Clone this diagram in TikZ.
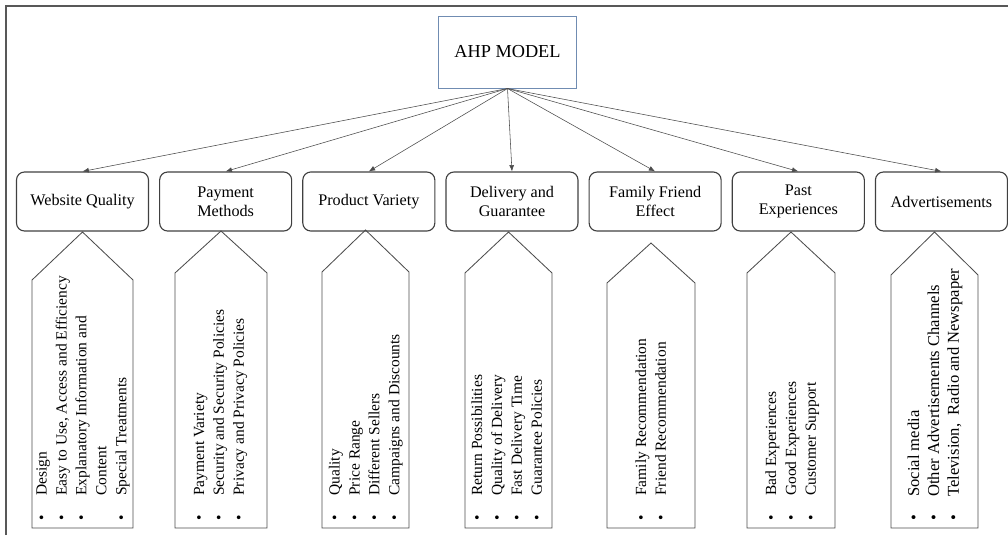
\documentclass[tikz,border=0pt]{standalone}
\usepackage{fontspec}
\setmainfont{Liberation Serif}
\usetikzlibrary{positioning,arrows.meta}

\definecolor{ahpblue}{RGB}{112,140,178}
\definecolor{framegray}{RGB}{88,88,88}

\tikzset{
  ahpbox/.style={draw=ahpblue, line width=0.7pt, minimum width=3.425cm, minimum height=1.8cm,
    font=\fontsize{13}{15}\selectfont},
  catbox/.style={draw=black!75, line width=0.8pt, rounded corners=0.2cm, minimum width=3.3cm,
    minimum height=1.475cm, align=center, font=\fontsize{11.5}{13.5}\selectfont},
  arrowbox/.style={draw=black!70, line width=0.6pt},
  listtext/.style={rotate=90, anchor=west, inner sep=0pt, font=\fontsize{11}{14.2}\selectfont},
  conn/.style={draw=black!70, line width=0.4pt, -{Latex[length=4.5pt,width=3.5pt]}}
}

\begin{document}
\begin{tikzpicture}[x=0.025cm, y=-0.025cm]
  \useasboundingbox (0,0) rectangle (1008,535);
  \draw[framegray, line width=1.4pt] (6,535) -- (6,6) -- (1008,6);

  \node[ahpbox] (ahp) at (507.5,52) {AHP MODEL};

  \node[catbox] (wq) at (82.5,201.5) {Website Quality};
  \node[catbox] (pm) [right = 0.25cm of wq] {Payment\\Methods};
  \node[catbox] (pv) [right = 0.25cm of pm] {Product Variety};
  \node[catbox] (dg) [right = 0.25cm of pv] {Delivery and\\Guarantee};
  \node[catbox] (ff) [right = 0.25cm of dg] {Family Friend\\Effect};
  \node[catbox] (pe) [right = 0.25cm of ff] {Past\\Experiences};
  \node[catbox] (ad) [right = 0.25cm of pe] {Advertisements};

  \foreach \n in {wq,pm,pv,dg,ff,pe,ad}
    \path[conn] (ahp.south) -- (\n.north);

  % upward arrow shapes under each factor
  \foreach \cx/\hw/\ap/\sh in {82.5/50.5/232/280, 221/46/231/273, 365.5/43.5/230/272,
      508.5/43.5/232/273, 651/44/243/283, 791/44/232/273, 934.5/43.5/232/275}
    \draw[arrowbox] (\cx-\hw,528) -- (\cx-\hw,\sh) -- (\cx,\ap) -- (\cx+\hw,\sh)
      -- (\cx+\hw,528) -- cycle;

  \node[listtext] (wql) at (82.5,521) {\begin{tabular}{@{}l@{\hspace{14pt}}l@{}}
    \textbullet & Design\\
    \textbullet & Easy to Use, Access and Efficiency\\
    \textbullet & Explanatory Information and\\
                & Content\\
    \textbullet & Special Treatments
  \end{tabular}};
  \node[listtext] (pml) at (220,521) {\begin{tabular}{@{}l@{\hspace{14pt}}l@{}}
    \textbullet & Payment Variety\\
    \textbullet & Security and Security Policies\\
    \textbullet & Privacy and Privacy Policies
  \end{tabular}};
  \node[listtext] (pvl) at (365.5,521) {\begin{tabular}{@{}l@{\hspace{14pt}}l@{}}
    \textbullet & Quality\\
    \textbullet & Price Range\\
    \textbullet & Different Sellers\\
    \textbullet & Campaigns and Discounts
  \end{tabular}};
  \node[listtext] (dgl) at (508,521) {\begin{tabular}{@{}l@{\hspace{14pt}}l@{}}
    \textbullet & Return Possibilities\\
    \textbullet & Quality of Delivery\\
    \textbullet & Fast Delivery Time\\
    \textbullet & Guarantee Policies
  \end{tabular}};
  \node[listtext] (ffl) at (652,521) {\begin{tabular}{@{}l@{\hspace{14pt}}l@{}}
    \textbullet & Family Recommendation\\
    \textbullet & Friend Recommendation
  \end{tabular}};
  \node[listtext] (pel) at (792,521) {\begin{tabular}{@{}l@{\hspace{14pt}}l@{}}
    \textbullet & Bad Experiences\\
    \textbullet & Good Experiences\\
    \textbullet & Customer Support
  \end{tabular}};
  \node[listtext, font=\fontsize{11.8}{14.2}\selectfont] (adl) at (935,521)
    {\begin{tabular}{@{}l@{\hspace{13pt}}l@{}}
    \textbullet & Social media\\
    \textbullet & Other Advertisements Channels\\
    \textbullet & Television,\ \ Radio and Newspaper
  \end{tabular}};
\end{tikzpicture}
\end{document}
